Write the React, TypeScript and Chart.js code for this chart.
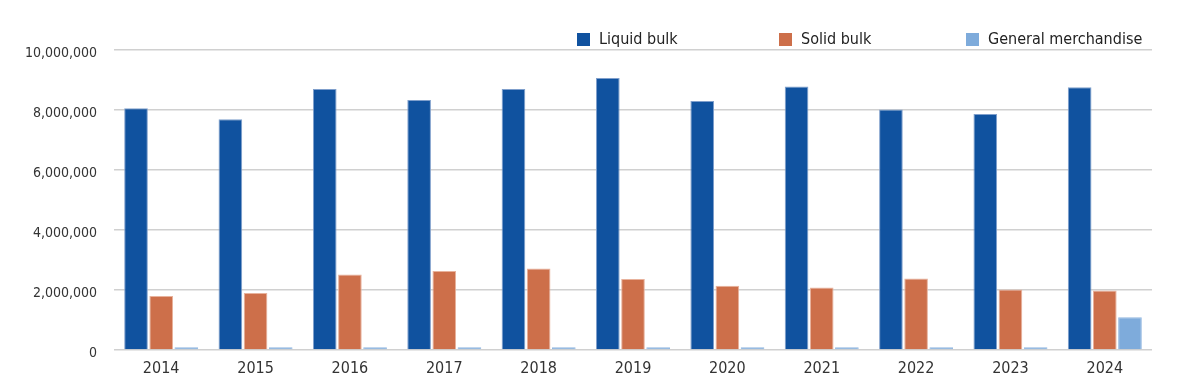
import React, { useEffect, useRef } from "react";
import { Chart, registerables } from "chart.js";

Chart.register(...registerables);

const years = ["2014", "2015", "2016", "2017", "2018", "2019", "2020", "2021", "2022", "2023", "2024"];
const liquidBulk = [8060000, 7690000, 8700000, 8330000, 8700000, 9070000, 8300000, 8780000, 8020000, 7870000, 8760000];
const solidBulk = [1800000, 1900000, 2520000, 2630000, 2720000, 2370000, 2140000, 2080000, 2380000, 2020000, 1980000];
const generalMerchandise = [90000, 90000, 90000, 90000, 90000, 90000, 90000, 90000, 90000, 90000, 1090000];
const seriesNames = ["Liquid bulk", "Solid bulk", "General merchandise"];
const yMax = 10000000;
const yStep = 2000000;

const FONT = "'Liberation Sans Narrow', 'DejaVu Sans Condensed', 'Arial Narrow', sans-serif";
const COLORS = ["#10529f", "#cd6f4a", "#7eabdb"];
const BORDERS = ["#7f9fcc", "#e8b29c", "#92b7e0"];
const LEGEND_LEFT = [569, 771, 958];

export default function App() {
  const ref = useRef<HTMLCanvasElement | null>(null);

  useEffect(() => {
    if (!ref.current) return;
    const values = [liquidBulk, solidBulk, generalMerchandise];
    const chart = new Chart(ref.current, {
      type: "bar",
      data: {
        labels: years,
        datasets: values.map((d, i) => ({
          label: seriesNames[i],
          data: d,
          backgroundColor: COLORS[i],
          borderColor: BORDERS[i],
          borderWidth: 1,
          categoryPercentage: 0.8,
          barPercentage: 0.94,
        })),
      },
      options: {
        animation: false,
        responsive: true,
        maintainAspectRatio: false,
        layout: { padding: { top: 42, right: 40, left: 0, bottom: 0 } },
        plugins: {
          legend: { display: false },
          tooltip: { enabled: false },
        },
        scales: {
          x: {
            grid: { display: false },
            border: { display: false },
            ticks: {
              color: "#333",
              font: { family: FONT, size: 16 },
              padding: 1,
            },
            afterFit: (s: any) => {
              s.height = 32;
            },
          },
          y: {
            min: 0,
            max: yMax,
            grid: { color: "#d0d0d0", lineWidth: 1.5, drawTicks: false },
            border: { display: false },
            ticks: {
              stepSize: yStep,
              color: "#333",
              padding: 17,
              labelOffset: 3,
              font: { family: FONT, size: 14 },
              callback: (v: any) => Number(v).toLocaleString("en-US"),
            },
            afterFit: (s: any) => {
              s.width = 106;
            },
          },
        },
      },
    });
    return () => chart.destroy();
  }, []);

  return (
    <div style={{ position: "relative", width: "100%", height: 374, background: "#fff" }}>
      <canvas ref={ref} />
      {seriesNames.map((name, i) => (
        <div
          key={name}
          style={{
            position: "absolute",
            top: 20,
            left: LEGEND_LEFT[i],
            display: "flex",
            alignItems: "center",
            fontFamily: FONT,
            fontSize: 16,
            color: "#222",
            whiteSpace: "nowrap",
            lineHeight: "22px",
          }}
        >
          <span
            style={{
              display: "inline-block",
              width: 13,
              height: 13,
              background: COLORS[i],
              marginRight: 9,
            }}
          />
          {name}
        </div>
      ))}
    </div>
  );
}
